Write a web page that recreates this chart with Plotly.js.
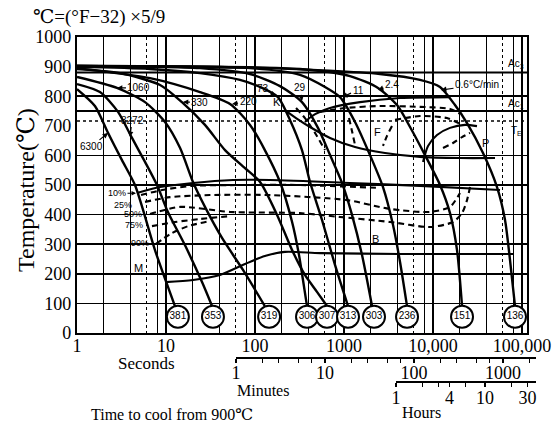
<!DOCTYPE html>
<html><head><meta charset="utf-8">
<script src="https://cdn.plot.ly/plotly-3.0.1.min.js"></script>
<style>html,body{margin:0;padding:0;background:#fff}#chart{width:555px;height:426px}</style>
</head><body><div id="chart"></div>
<script>
// ---- cooling curves: time to cool from 900 °C (s) and temperature (°C)
const rate6300_t = [1, 1.59, 2.23, 3.2, 4.48, 5.52, 7.52, 12.6];
const rate6300_T = [824, 767, 676, 584, 500, 416, 280, 91];
const rate3272_t = [1, 1.81, 2.89, 4.15, 5.81, 7.92, 10.5, 16.3, 25.4, 32.9];
const rate3272_T = [841, 814, 747, 659, 578, 500, 409, 297, 172, 91];
const rate1060_t = [1, 2.81, 5.81, 9.75, 14.4, 20.1, 27.4, 42.6, 73.3, 129];
const rate1060_T = [865, 828, 780, 713, 625, 510, 426, 321, 213, 91];
const rate330_t = [1, 3.04, 8.57, 15.1, 27.4, 46, 77.2, 114, 177, 261, 364, 497, 644];
const rate330_T = [892, 878, 838, 780, 703, 618, 557, 510, 399, 280, 196, 139, 91];
const rate220_t = [1, 6.61, 24.1, 52.4, 87.9, 129, 191, 261, 312, 346, 384];
const rate220_T = [895, 861, 814, 774, 703, 618, 510, 375, 264, 179, 91];
const rate73_t = [1, 6.61, 24.1, 67.8, 120, 181, 247, 337, 415, 566, 792, 1109];
const rate73_T = [899, 892, 878, 855, 828, 797, 720, 618, 510, 382, 230, 91];
const rate29_t = [1, 24.1, 87.9, 191, 337, 510, 697, 950, 1230, 1592, 2064];
const rate29_T = [902, 895, 875, 834, 780, 693, 601, 507, 399, 264, 91];
const rate11_t = [1, 87.9, 320, 612, 902, 1330, 1959, 2742, 3554, 4260, 5104];
const rate11_T = [902, 895, 872, 831, 797, 713, 601, 493, 365, 240, 91];
const rate2_4_t = [1, 320, 1168, 2410, 3942, 5519, 8128, 11990, 15520, 18610, 21180];
const rate2_4_T = [902, 892, 868, 828, 770, 696, 601, 500, 405, 280, 91];
const rate0_6_t = [1, 147, 2536, 7146, 11990, 17660, 24110, 36460, 52370, 64420, 73290, 83400];
const rate0_6_T = [902, 895, 875, 855, 831, 770, 709, 608, 493, 382, 247, 91];

// ---- transformation lines (solid)
const ferriteStart_t = [364, 437, 697, 1514, 4260, 15520];
const ferriteStart_T = [713, 733, 760, 780, 794, 797];
const pearliteStart_t = [217, 289, 415, 697, 1330, 2888, 7146, 20100, 49750];
const pearliteStart_T = [753, 726, 696, 659, 628, 608, 595, 591, 591];
const pearliteArc_t = [7725, 8790, 11090, 15520, 22900, 31200];
const pearliteArc_T = [578, 632, 669, 693, 703, 699];
const bainiteStart_t = [4.72, 8.57, 20.1, 56.6, 147, 1168, 7146, 56620];
const bainiteStart_T = [473, 493, 507, 517, 517, 507, 497, 483];
const martensite_t = [9.75, 20.1, 40.4, 77.2, 129, 217, 537, 4260, 79250];
const martensite_T = [172, 179, 196, 233, 260, 274, 270, 267, 267];

// ---- transformation percentage lines (dashed)
const b10_t = [5.24, 9.02, 19.6, 77.2, 320, 2536];
const b10_T = [466, 483, 497, 500, 500, 490];
const b25_t = [5.81, 11.1, 31.2, 147, 1081, 3289, 9250, 15520, 20100];
const b25_T = [443, 459, 466, 466, 449, 419, 409, 426, 473];
const b50_t = [6.61, 14.4, 52.4, 320, 902, 3289, 9250, 16780, 21180, 24110, 26060];
const b50_T = [402, 426, 409, 405, 392, 375, 358, 375, 405, 449, 493];
const b75_t = [6.96, 12.6, 24.1, 52.4];
const b75_T = [361, 375, 385, 395];
const b90_t = [7.72, 11.1, 17.7, 31.2];
const b90_T = [301, 334, 361, 378];
const fA_t = [537, 1026, 2536, 7146, 15520, 20100];
const fA_T = [747, 760, 767, 764, 757, 740];
const fB_t = [3742, 7146, 14360, 21180];
const fB_T = [720, 733, 726, 703];
const fC_t = [289, 364, 472, 612];
const fC_T = [760, 726, 676, 618];
const fD_t = [1138, 1222, 1330];
const fD_T = [726, 686, 635];
const fE_t = [3460, 3043, 2742];
const fE_T = [699, 666, 632];
const pA_t = [12950, 16780, 21180, 26060];
const pA_T = [625, 642, 662, 676];

// ---- hardness (circled) at the end of each cooling curve
const hardnessTimes = [13.6, 33.7, 144, 384, 644, 1109, 2173, 5104, 21180, 83400];
const hardnessValues = ['381', '353', '319', '306', '307', '313', '303', '236', '151', '136'];
const hardnessRowTemp = 55;

// ---- critical temperatures
const critTemps = [880, 750, 716];
const critLabels = ['Ac<sub>3</sub>', 'Ac<sub>1</sub>', 'T<sub>E</sub>'];
const critLabelTemps = [909, 774, 682];
const critLabelTime = 86000;

// ---- cooling-rate labels (°C/min), arrow tips on the curves
const rateLabels = ['6300', '3272', '1060', '330', '220', '73', '29', '11', '2.4', '0.6°C/min'];
const rateTipTime = [2.23, 3.94, 2.81, 15.5, 55.2, 172, 337, 950, 2410, 12300];
const rateTipTemp = [676, 662, 828, 780, 774, 801, 784, 797, 821, 821];

// ---- percentage and phase labels
const pctLabels = ['10%', '25%', '50%', '75%', '90%'];
const pctTime = [2.89, 3.29, 4.26, 4.37, 5.1];
const pctTemp = [470, 431, 402, 365, 304];
const pct10TipTime = 4.6, pct10TipTemp = 472;
const phaseLabels = ['F', 'P', 'B', 'M', 'K'];
const phaseTime = [2350, 38400, 2230, 4.85, 177];
const phaseTemp = [679, 642, 318, 220, 780];

// ---- axes ticks
const tempTicks = [0, 100, 200, 300, 400, 500, 600, 700, 800, 900, 1000];
const tempGrid = [100, 200, 300, 400, 500, 600, 800];
const secTicks = [1, 10, 100, 1000, 10000, 100000];
const secLabels = ['1', '10', '100', '1000', '10,000', '100,000'];
const secGridSolid = [2, 4, 8, 20, 40, 80, 200, 400, 800, 2000, 4000, 8000, 20000, 40000, 80000];
const secGridDotted = [6, 60, 600, 6000, 60000];
const minuteTicks = [1, 2, 3, 5, 7, 10, 20, 30, 50, 70, 100, 200, 300, 500, 700, 1000, 2000];
const minuteLabeled = [1, 10, 100, 1000];
const hourTicks = [1, 2, 3, 4, 6, 10, 20, 30];
const hourLabeled = [1, 4, 10, 30];

const serif = 'Liberation Serif, DejaVu Serif, serif';
const sans = 'Liberation Sans, Arial, sans-serif';

const traces = [];
function addLine(t, T, w, dash) {
  traces.push({x: t, y: T, type: 'scatter', mode: 'lines', hoverinfo: 'skip', showlegend: false,
    line: {color: '#000', width: w, shape: 'spline', smoothing: 0.7, dash: dash || 'solid'}});
}
[[rate6300_t, rate6300_T], [rate3272_t, rate3272_T], [rate1060_t, rate1060_T], [rate330_t, rate330_T],
 [rate220_t, rate220_T], [rate73_t, rate73_T], [rate29_t, rate29_T], [rate11_t, rate11_T],
 [rate2_4_t, rate2_4_T], [rate0_6_t, rate0_6_T]].forEach(c => addLine(c[0], c[1], 2.4));
[[ferriteStart_t, ferriteStart_T], [pearliteStart_t, pearliteStart_T], [pearliteArc_t, pearliteArc_T],
 [bainiteStart_t, bainiteStart_T], [martensite_t, martensite_T]].forEach(c => addLine(c[0], c[1], 2.1));
[[b10_t, b10_T], [b25_t, b25_T], [b50_t, b50_T], [b75_t, b75_T], [b90_t, b90_T],
 [fA_t, fA_T], [fB_t, fB_T], [fC_t, fC_T], [fD_t, fD_T], [fE_t, fE_T], [pA_t, pA_T]]
  .forEach(c => addLine(c[0], c[1], 2.1, '6px,4px'));

traces.push({x: hardnessTimes, y: hardnessTimes.map(() => hardnessRowTemp), type: 'scatter',
  mode: 'markers+text', text: hardnessValues, textposition: 'middle center', hoverinfo: 'skip', showlegend: false,
  cliponaxis: false,
  marker: {symbol: 'circle', size: 22, color: '#fff', line: {color: '#000', width: 2}},
  textfont: {family: 'Liberation Sans Narrow, ' + sans, size: 10, color: '#000'}});

// helper traces that make the extra axes exist
traces.push({x: [1], y: [null], xaxis: 'x4', yaxis: 'y', type: 'scatter', mode: 'markers', showlegend: false, hoverinfo: 'skip'});
traces.push({x: [1], y: [null], xaxis: 'x', yaxis: 'y2', type: 'scatter', mode: 'markers', showlegend: false, hoverinfo: 'skip'});
traces.push({x: [60], y: [null], xaxis: 'x2', yaxis: 'y3', type: 'scatter', mode: 'markers', showlegend: false, hoverinfo: 'skip'});
traces.push({x: [3600], y: [null], xaxis: 'x3', yaxis: 'y4', type: 'scatter', mode: 'markers', showlegend: false, hoverinfo: 'skip'});

// geometry of the plot area
const W = 555, H = 426, L = 77, R = 19, T = 37, B = 42;
const pw = W - L - R, ph = H - T - B;
const mainRight = 450 / pw;
const yDomain = [(384 - 333) / ph, 1];
const xRangeMax = 5.056;
const minStartPx = 236, hourStartPx = 396, decadePx = 450 / xRangeMax;
const minLinePx = 357, hourLinePx = 381;

const annotations = [];
const lbl = {family: sans, size: 10, color: '#000'};
const pctFont = {family: sans, size: 9, color: '#000'};
const rateOffsets = [[-17, 14], [2, -17], [22, 0], [17, 0], [16, -2], [-13, -7], [-2, -13], [16, -7], [14, -5], [36, -5]];
rateLabels.forEach((s, i) => annotations.push({x: Math.log10(rateTipTime[i]), y: rateTipTemp[i], xref: 'x', yref: 'y',
  text: s, showarrow: true, arrowhead: 2, arrowsize: 0.9, arrowwidth: 1.2, arrowcolor: '#000',
  ax: rateOffsets[i][0], ay: rateOffsets[i][1], font: lbl, standoff: 0}));
pctLabels.forEach((s, i) => {
  if (i === 0) {
    annotations.push({x: Math.log10(pct10TipTime), y: pct10TipTemp, xref: 'x', yref: 'y', text: s,
      showarrow: true, arrowhead: 2, arrowsize: 0.8, arrowwidth: 1.1, arrowcolor: '#000', ax: -19, ay: 0,
      font: pctFont, standoff: 0});
  } else {
    annotations.push({x: Math.log10(pctTime[i]), y: pctTemp[i], xref: 'x', yref: 'y',
      text: s, showarrow: false, font: pctFont, xanchor: 'center', yanchor: 'middle'});
  }
});
phaseLabels.forEach((s, i) => annotations.push({x: Math.log10(phaseTime[i]), y: phaseTemp[i], xref: 'x', yref: 'y',
  text: s, showarrow: false, font: {family: sans, size: 11, color: '#000'}, xanchor: 'center', yanchor: 'middle'}));
critLabels.forEach((s, i) => annotations.push({x: Math.log10(critLabelTime), y: critLabelTemps[i], xref: 'x', yref: 'y',
  text: s, showarrow: false, font: lbl, xanchor: 'center', yanchor: 'middle'}));
function paperText(s, px, py, size, extra) {
  annotations.push(Object.assign({x: (px - L) / pw, y: (H - B - py) / ph, xref: 'paper', yref: 'paper', text: s,
    showarrow: false, xanchor: 'center', yanchor: 'middle',
    font: {family: serif, size: size, color: '#000'}}, extra || {}));
}
paperText('℃=(°F−32) ×5/9', 31, 17, 19, {xanchor: 'left'});
paperText('Temperature(℃)', 26, 190, 24, {textangle: -90});
paperText('Seconds', 146, 363, 17);
paperText('Minutes', 263, 390, 16);
paperText('Hours', 421, 412, 16);
paperText('Time to cool from 900℃', 172, 414, 16);

const shapes = critTemps.map((v, i) => ({type: 'line', xref: 'paper', yref: 'y', x0: 0, x1: mainRight, y0: v, y1: v,
  line: {color: '#000', width: i < 2 ? 2.2 : 1.5, dash: i < 2 ? 'solid' : 'dot'}}));

const tickFont = {family: serif, size: 18, color: '#000'};
const layout = {
  width: W, height: H, margin: {l: L, r: R, t: T, b: B}, paper_bgcolor: '#fff', plot_bgcolor: 'rgba(0,0,0,0)',
  showlegend: false, font: {family: serif, color: '#000'},
  xaxis: {type: 'log', range: [0, xRangeMax], domain: [0, mainRight], anchor: 'y',
    tickmode: 'array', tickvals: secTicks, ticktext: secLabels, ticks: '', ticklabelstandoff: -5,
    showgrid: true, gridcolor: '#000', gridwidth: 1.2,
    minor: {tickmode: 'array', tickvals: secGridSolid, showgrid: true, gridcolor: '#000', gridwidth: 1.2, ticks: ''},
    showline: true, mirror: true, linecolor: '#000', linewidth: 2.2, zeroline: false, tickfont: tickFont},
  xaxis4: {type: 'log', range: [0, xRangeMax], overlaying: 'x', anchor: 'y', tickmode: 'array', tickvals: secGridDotted,
    showticklabels: false, ticks: '', showgrid: true, griddash: 'dot', gridcolor: '#000', gridwidth: 1.3,
    showline: false, zeroline: false},
  yaxis: {range: [0, 1000], domain: yDomain, anchor: 'x', tickmode: 'array', tickvals: tempTicks, ticks: '',
    showgrid: false, showline: true, mirror: true, linecolor: '#000', linewidth: 2.2, zeroline: false,
    tickfont: tickFont},
  yaxis2: {range: [0, 1000], overlaying: 'y', anchor: 'x', tickmode: 'array', tickvals: tempGrid, showticklabels: false,
    ticks: '', showgrid: true, gridcolor: '#000', gridwidth: 1.5, showline: false, zeroline: false},
  xaxis2: {type: 'log', anchor: 'free', position: (H - B - minLinePx) / ph,
    domain: [(minStartPx - L) / pw, 1],
    range: [Math.log10(60), Math.log10(60) + (W - R - minStartPx) / decadePx],
    tickmode: 'array', tickvals: minuteTicks.map(m => m * 60),
    ticktext: minuteTicks.map(m => minuteLabeled.includes(m) ? String(m) : ''),
    ticks: 'outside', ticklen: 4, tickwidth: 1.2, tickcolor: '#000', showgrid: false, zeroline: false,
    ticklabelstandoff: -5,
    showline: true, linecolor: '#000', linewidth: 1.6, tickfont: tickFont},
  xaxis3: {type: 'log', anchor: 'free', position: (H - B - hourLinePx) / ph,
    domain: [(hourStartPx - L) / pw, 1],
    range: [Math.log10(3600), Math.log10(3600) + (W - R - hourStartPx) / decadePx],
    tickmode: 'array', tickvals: hourTicks.map(h => h * 3600),
    ticktext: hourTicks.map(h => hourLabeled.includes(h) ? String(h) : ''),
    ticks: 'outside', ticklen: 4, tickwidth: 1.2, tickcolor: '#000', showgrid: false, zeroline: false,
    ticklabelstandoff: -4,
    showline: true, linecolor: '#000', linewidth: 1.6, tickfont: tickFont},
  yaxis3: {domain: yDomain, anchor: 'x2', visible: false, range: [0, 1]},
  yaxis4: {domain: yDomain, anchor: 'x3', visible: false, range: [0, 1]},
  shapes: shapes,
  annotations: annotations
};
Plotly.newPlot('chart', traces, layout, {displayModeBar: false, staticPlot: true});
</script>
</body></html>
